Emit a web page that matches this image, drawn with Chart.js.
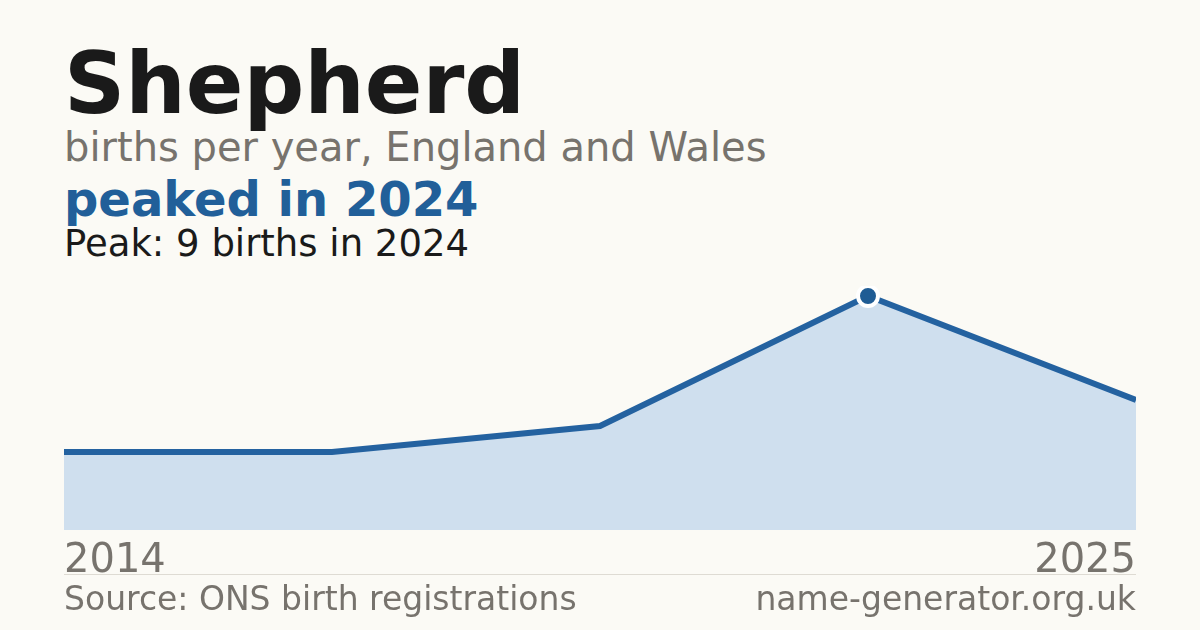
<!DOCTYPE html>
<html>
<head>
<meta charset="utf-8">
<script src="https://cdn.jsdelivr.net/npm/chart.js@4"></script>
<style>
  html, body { margin: 0; padding: 0; }
  body { width: 1200px; height: 630px; background: #fbfaf5; position: relative; overflow: hidden;
         font-family: "DejaVu Sans", sans-serif; }
  .t { position: absolute; left: 64px; line-height: 1; white-space: nowrap; }
  #title { top: 41px; font-size: 85px; font-weight: bold; color: #1a1a1a; }
  #sub { top: 127px; font-size: 40px; color: #77736d; }
  #lead { top: 175px; font-size: 48px; font-weight: bold; color: #215f99; }
  #peak { top: 225px; font-size: 37px; color: #1a1a1a; }
  #rule { position: absolute; left: 64px; top: 574px; width: 1072px; height: 1px; background: #dedbd3; }
  .foot { position: absolute; top: 582px; font-size: 33px; line-height: 1; color: #77736d; white-space: nowrap; }
  #src { left: 64px; }
  #site { right: 64px; }
  #wrap { position: absolute; left: 64px; top: 286px; width: 1072px; height: 300px; }
</style>
</head>
<body>
<div class="t" id="title">Shepherd</div>
<div class="t" id="sub">births per year, England and Wales</div>
<div class="t" id="lead">peaked in 2024</div>
<div class="t" id="peak">Peak: 9 births in 2024</div>
<div id="wrap"><canvas id="chart"></canvas></div>
<div id="rule"></div>
<div class="foot" id="src">Source: ONS birth registrations</div>
<div class="foot" id="site">name-generator.org.uk</div>
<script>
// data
const years = ['2014', '2018', '2021', '2024', '2025'];
const births = [3, 3, 4, 9, 5];
const tickYears = ['2014', '2025'];

const peakIndex = births.indexOf(Math.max(...births));

new Chart(document.getElementById('chart'), {
  type: 'line',
  data: {
    labels: years,
    datasets: [{
      data: births,
      borderColor: '#2462a0',
      borderWidth: 6,
      backgroundColor: '#cfdfee',
      fill: 'origin',
      tension: 0,
      clip: false,
      pointRadius: (c) => c.dataIndex === peakIndex ? 10 : 0,
      pointHoverRadius: (c) => c.dataIndex === peakIndex ? 10 : 0,
      pointBackgroundColor: '#1f5c94',
      pointBorderColor: '#ffffff',
      pointBorderWidth: 4
    }]
  },
  options: {
    responsive: true,
    maintainAspectRatio: false,
    animation: false,
    layout: { autoPadding: false, padding: { top: 10, left: 0, right: 0, bottom: 0 } },
    plugins: { legend: { display: false }, tooltip: { enabled: false } },
    scales: {
      y: { display: false, min: 0, max: 9 },
      x: {
        grid: { display: false, drawTicks: false },
        border: { display: false },
        afterFit: (scale) => {
          scale.height = 56;
          scale.paddingLeft = 0;
          scale.paddingRight = 0;
        },
        ticks: {
          autoSkip: false,
          maxRotation: 0,
          align: 'inner',
          padding: 8,
          color: '#77736d',
          font: { family: 'DejaVu Sans', size: 40 },
          callback: function (v) {
            const l = this.getLabelForValue(v);
            return tickYears.includes(l) ? l : '';
          }
        }
      }
    }
  }
});
</script>
</body>
</html>
